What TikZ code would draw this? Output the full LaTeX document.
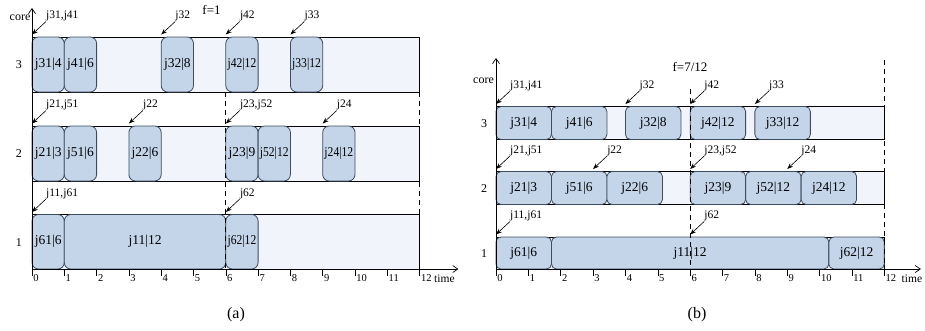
\documentclass[tikz,border=0pt]{standalone}
\usepackage{fontspec}
\usepackage{graphicx}
\setmainfont{Liberation Serif}
\usetikzlibrary{arrows.meta}
\definecolor{boxfill}{HTML}{C4D4E9}
\definecolor{rowfill}{HTML}{F1F5FB}
\definecolor{boxline}{HTML}{3E4C60}
\tikzset{
  rowbg/.style={draw=black, line width=0.7pt, fill=rowfill},
  taskbox/.style={draw=boxline, line width=0.8pt, fill=boxfill, rounded corners=#1, inner sep=0pt, font=\fontsize{13.5}{14}\selectfont},
  taskbox/.default=6pt,
  rel/.style={line width=0.6pt, -{Stealth[length=6pt,width=4.5pt]}},
  rellabel/.style={anchor=south west, inner sep=0pt, font=\fontsize{11.5}{12}\selectfont},
  axisline/.style={line width=0.7pt, -{Straight Barb[length=5pt,width=7pt]}},
  tickline/.style={line width=0.6pt},
  ticklabel/.style={anchor=west, inner sep=0pt, font=\fontsize{10.5}{11}\selectfont},
  timelabel/.style={anchor=west, inner sep=0pt, font=\fontsize{11.5}{12}\selectfont},
  guide/.style={dash pattern=on 5pt off 4pt, line width=0.7pt},
  plain/.style={inner sep=0pt, font=\fontsize{12}{13}\selectfont},
  caption/.style={inner sep=0pt, font=\fontsize{16}{17}\selectfont},
}
% name, t1, t2, ytop, ybot, label, radius
\newcommand\mktask[7]{%
  \node[taskbox=#7, minimum width={(#3-#2)*\tu}, minimum height={(#5-#4)*1pt}]
    (#1) at ({(#2+#3)/2},{(#4+#5)/2}) {#6};}
% name, t, ytop, label
\newcommand\mkrel[4]{%
  \coordinate (#1-tip) at (#2,{#3-2.5});
  \node[rellabel] (#1) at ([shift={(14pt,13pt)}]#1-tip) {#4};
  \draw[rel] (#1.south west) -- (#1-tip);}
\newcommand\sq[1]{\scalebox{0.86}[1]{#1}}
\begin{document}
\begin{tikzpicture}[x=1pt,y=-1pt]
\useasboundingbox (0,0) rectangle (925,330);

% ================= (a) =================
\def\tu{32.3pt}
\begin{scope}[shift={(32pt,0pt)}, x=32.3pt, y=-1pt]
  \draw[rowbg] (0,37) rectangle (12,92);
  \draw[rowbg] (0,126) rectangle (12,181);
  \draw[rowbg] (0,214.5) rectangle (12,269);
  % core 3
  \mktask{a31}{0}{1}{37}{92}{j31|4}{6.5pt}
  \mktask{a41}{1}{2}{37}{92}{j41|6}{6.5pt}
  \mktask{a32}{4}{5}{37}{92}{j32|8}{6.5pt}
  \mktask{a42}{6}{7}{37}{92}{\sq{j42|12}}{6.5pt}
  \mktask{a33}{8}{9}{37}{92}{\sq{j33|12}}{6.5pt}
  % core 2
  \mktask{a21}{0}{1}{126}{181}{j21|3}{6.5pt}
  \mktask{a51}{1}{2}{126}{181}{j51|6}{6.5pt}
  \mktask{a22}{3}{4}{126}{181}{j22|6}{6.5pt}
  \mktask{a23}{6}{7}{126}{181}{j23|9}{6.5pt}
  \mktask{a52}{7}{8}{126}{181}{\sq{j52|12}}{6.5pt}
  \mktask{a24}{9}{10}{126}{181}{\sq{j24|12}}{6.5pt}
  % core 1
  \mktask{a61}{0}{1}{214.5}{269}{j61|6}{6.5pt}
  \mktask{a11}{1}{6}{214.5}{269}{j11|12}{6.5pt}
  \mktask{a62}{6}{7}{214.5}{269}{\sq{j62|12}}{6.5pt}
  % release arrows
  \mkrel{ar3a}{0}{37}{j31,j41}
  \mkrel{ar3b}{4}{37}{j32}
  \mkrel{ar3c}{6}{37}{j42}
  \mkrel{ar3d}{8}{37}{j33}
  \mkrel{ar2a}{0}{126}{j21,j51}
  \mkrel{ar2b}{3}{126}{j22}
  \mkrel{ar2c}{6}{126}{j23,j52}
  \mkrel{ar2d}{9}{126}{j24}
  \mkrel{ar1a}{0}{214.5}{j11,j61}
  \mkrel{ar1b}{6}{214.5}{j62}
  % guides
  \coordinate (ag6t) at (6,92);  \coordinate (ag6b) at (6,269);
  \coordinate (ag12t) at (12,92); \coordinate (ag12b) at (12,269);
  \draw[guide] (ag6t) -- (ag6b);
  \draw[guide] (ag12t) -- (ag12b);
  % axes
  \coordinate (ao) at (0,269);
  \coordinate (ayt) at (0,8);
  \coordinate (axt) at (13.2,269);
  \draw[axisline] (ao) -- (ayt);
  \draw[axisline] (ao) -- (axt);
  \foreach \t in {0,...,12}{
    \draw[tickline] (\t,269) -- (\t,276);
    \node[ticklabel] (atk\t) at ([xshift=1.2pt]\t,278.5) {\t};
  }
\end{scope}
\node[timelabel] (atime) at (434,278.5) {time};
\node[plain] (acore) at (20,17.5) {core};
\node[plain, font=\fontsize{13}{14}\selectfont] (af) at (211.5,10) {f=1};
\node[plain] (ar3) at (19,64.5) {3};
\node[plain] (ar2) at (19,154) {2};
\node[plain] (ar1) at (19,243) {1};
\node[caption] (acap) at (236,315) {(a)};

% ================= (b) =================
\def\tu{32.36pt}
\begin{scope}[shift={(496pt,0pt)}, x=32.36pt, y=-1pt]
  \draw[rowbg] (0,106.5) rectangle (12,139.5);
  \draw[rowbg] (0,171.5) rectangle (12,204.5);
  \draw[rowbg] (0,237) rectangle (12,269);
  % core 3
  \mktask{b31}{0}{1.7143}{106.5}{139.5}{j31|4}{5pt}
  \mktask{b41}{1.7143}{3.4286}{106.5}{139.5}{j41|6}{5pt}
  \mktask{b32}{4}{5.7143}{106.5}{139.5}{j32|8}{5pt}
  \mktask{b42}{6}{7.7143}{106.5}{139.5}{j42|12}{5pt}
  \mktask{b33}{8}{9.7143}{106.5}{139.5}{j33|12}{5pt}
  % core 2
  \mktask{b21}{0}{1.7143}{171.5}{204.5}{j21|3}{5pt}
  \mktask{b51}{1.7143}{3.4286}{171.5}{204.5}{j51|6}{5pt}
  \mktask{b22}{3.4286}{5.1429}{171.5}{204.5}{j22|6}{5pt}
  \mktask{b23}{6}{7.7143}{171.5}{204.5}{j23|9}{5pt}
  \mktask{b52}{7.7143}{9.4286}{171.5}{204.5}{j52|12}{5pt}
  \mktask{b24}{9.4286}{11.1429}{171.5}{204.5}{j24|12}{5pt}
  % core 1
  \mktask{b61}{0}{1.7143}{237}{269}{j61|6}{5pt}
  \mktask{b11}{1.7143}{10.2857}{237}{269}{j11|12}{5pt}
  \mktask{b62}{10.2857}{12}{237}{269}{j62|12}{5pt}
  % release arrows
  \mkrel{br3a}{0}{106.5}{j31,j41}
  \mkrel{br3b}{4}{106.5}{j32}
  \mkrel{br3c}{6}{106.5}{j42}
  \mkrel{br3d}{8}{106.5}{j33}
  \mkrel{br2a}{0}{171.5}{j21,j51}
  \mkrel{br2b}{3}{171.5}{j22}
  \mkrel{br2c}{6}{171.5}{j23,j52}
  \mkrel{br2d}{9}{171.5}{j24}
  \mkrel{br1a}{0}{237}{j11,j61}
  \mkrel{br1b}{6}{237}{j62}
  % guides
  \coordinate (bg6t) at (6,89);  \coordinate (bg6b) at (6,269);
  \coordinate (bg12t) at (12,60); \coordinate (bg12b) at (12,269);
  \draw[guide] (bg6t) -- (bg6b);
  \draw[guide] (bg12t) -- (bg12b);
  % axes
  \coordinate (bo) at (0,269);
  \coordinate (byt) at (0,58);
  \coordinate (bxt) at (13.13,269);
  \draw[axisline] (bo) -- (byt);
  \draw[axisline] (bo) -- (bxt);
  \foreach \t in {0,...,12}{
    \draw[tickline] (\t,269) -- (\t,276);
    \node[ticklabel] (btk\t) at ([xshift=1.2pt]\t,278.5) {\t};
  }
\end{scope}
\node[timelabel] (btime) at (901.5,278.5) {time};
\node[plain] (bcore) at (483.5,80.7) {core};
\node[plain, font=\fontsize{13}{14}\selectfont] (bf) at (690,67) {f=7/12};
\node[plain] (br3) at (484,123.5) {3};
\node[plain] (br2) at (484,188.5) {2};
\node[plain] (br1) at (484,253.5) {1};
\node[caption] (bcap) at (697,315) {(b)};
\end{tikzpicture}
\end{document}
